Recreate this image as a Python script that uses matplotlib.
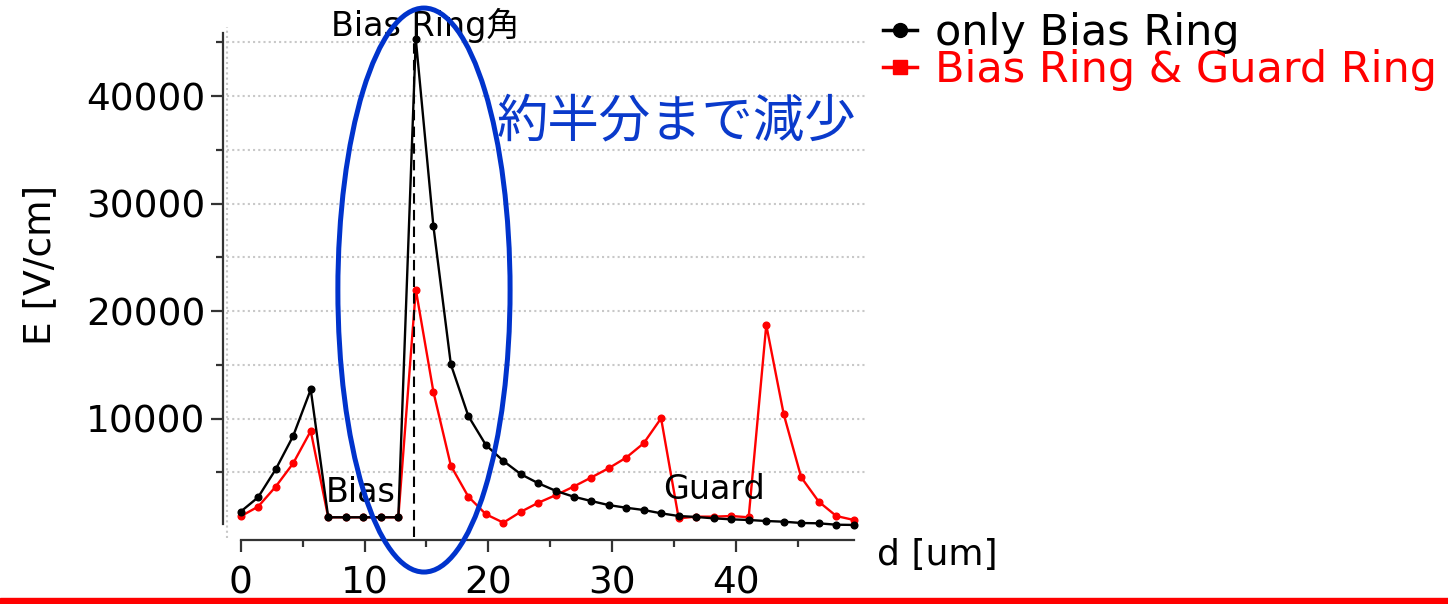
import matplotlib
matplotlib.use("Agg")
import matplotlib.pyplot as plt
from matplotlib.patches import Ellipse, Rectangle
from matplotlib.lines import Line2D
from matplotlib.ticker import MultipleLocator

# d [um] sample positions
d = [0.0, 1.41, 2.83, 4.24, 5.66, 7.07, 8.49, 9.90, 11.31, 12.73,
     14.14, 15.56, 16.97, 18.38, 19.80, 21.21, 22.63, 24.04, 25.46, 26.87,
     28.28, 29.70, 31.11, 32.53, 33.94, 35.36, 36.77, 38.18, 39.60, 41.01,
     42.43, 43.84, 45.25, 46.67, 48.08, 49.50]

# only Bias Ring
e_bias = [1330, 2670, 5270, 8370, 12700, 810, 810, 810, 810, 810,
          45300, 27900, 15040, 10230, 7530, 6050, 4810, 3970, 3260, 2730,
          2330, 1950, 1700, 1490, 1180, 930, 840, 715, 620, 560,
          465, 400, 280, 250, 120, 100]

# Bias Ring & Guard Ring
e_guard = [900, 1800, 3660, 5830, 8840, 810, 810, 810, 810, 810,
           22000, 12490, 5610, 2730, 1090, 310, 1330, 2170, 2880, 3660,
           4500, 5370, 6350, 7690, 10020, 715, 870, 870, 930, 810,
           18700, 10390, 4530, 2260, 930, 560]

labels = ["only Bias Ring", "Bias Ring & Guard Ring"]
corner_d = 14.0

W, H = 1448, 604
fig = plt.figure(figsize=(W / 100, H / 100), dpi=100)
plt.rcParams['font.family'] = ['DejaVu Sans', 'Noto Sans CJK JP']

ax = fig.add_axes([227 / W, 1 - 538 / H, (865 - 227) / W, (538 - 27) / H])
ax.set_xlim(-1.1, 50.4)
ax.set_ylim(-1116, 46420)

ax.plot(d, e_guard, color='#ff0000', marker='o', markersize=4.8, lw=1.7, zorder=3)
ax.plot(d, e_bias, color='black', marker='o', markersize=4.8, lw=1.7, zorder=4)

# dashed line at the Bias Ring corner
ax.vlines(corner_d, -1000, max(e_bias), colors='black', linestyles=(0, (5, 3)), lw=1.5, zorder=4)

# spines / ticks
for s in ['top', 'right']:
    ax.spines[s].set_visible(False)
ax.spines['left'].set_position(('outward', 3))
ax.spines['bottom'].set_position(('outward', 1.5))
ax.spines['left'].set_bounds(200, 45850)
ax.spines['bottom'].set_bounds(0, 49.5)
for s in ['left', 'bottom']:
    ax.spines[s].set_color('#333333')
    ax.spines[s].set_linewidth(1.6)

ax.set_yticks([10000, 20000, 30000, 40000])
ax.set_yticks([5000, 15000, 25000, 35000, 45000], minor=True)
ax.set_xticks([0, 10, 20, 30, 40])
ax.set_xticks([5, 15, 25, 35, 45], minor=True)
ax.tick_params(which='major', length=8.5, width=1.6, color='#333333', labelsize=27)
ax.tick_params(which='minor', length=5, width=1.6, color='#333333')
ax.tick_params(axis='y', which='major', pad=4)
ax.tick_params(axis='x', which='major', pad=10)

ax.grid(True, axis='y', which='both', color='#c8c8c8', linestyle=(0, (1, 1.5)), lw=1.5)
ax.axvline(-1.1, color='#c8c8c8', linestyle=(0, (1, 1.5)), lw=1.5, clip_on=False)

# annotations
ax.text(14.9, 46600, "Bias Ring角", fontsize=24, ha='center', va='center')
ax.text(6.9, 3160, "Bias", fontsize=24, ha='left', va='center', zorder=4)
ax.text(34.1, 3350, "Guard", fontsize=24, ha='left', va='center', zorder=4)

ell = Ellipse((14.8, 21950), 13.9, 52465, fill=False, edgecolor='#0033cc', lw=3.6,
              clip_on=False, zorder=6)
ax.add_patch(ell)

fig.text(497 / W, 1 - 122 / H, "約半分まで減少", fontsize=37, color='#0a3acb',
         ha='left', va='center', family=['Noto Sans CJK JP'])

fig.text(40 / W, 1 - 265 / H, "E [V/cm]", fontsize=27, rotation=90, ha='center', va='center')
fig.text(877 / W, 1 - 555 / H, "d [um]", fontsize=26, ha='left', va='center')

handles = [Line2D([], [], color='black', marker='o', markersize=10, lw=2.5),
           Line2D([], [], color='#ff0000', marker='s', markersize=10, lw=2.5)]
leg = fig.legend(handles, labels, loc='upper left', bbox_to_anchor=(883 / W, 1 - 12 / H),
                 frameon=False, fontsize=31, handlelength=0.8, handletextpad=0.4,
                 labelspacing=-0.12, borderpad=0, borderaxespad=0)
leg.get_texts()[1].set_color('#ff0000')

# red bar at the bottom
fig.patches.append(Rectangle((0, 0), 1, 6 / H, transform=fig.transFigure,
                             color='#ff0000', zorder=10))

fig.savefig("out.png", dpi=100)
